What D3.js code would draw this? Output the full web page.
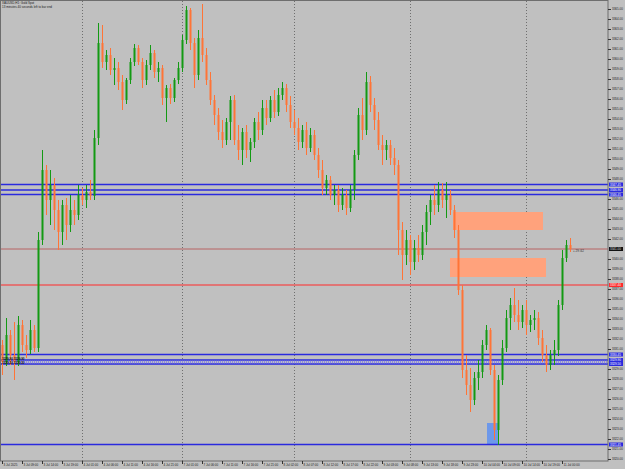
<!DOCTYPE html>
<html>
<head>
<meta charset="utf-8">
<script src="https://cdn.jsdelivr.net/npm/d3@7"></script>
<style>
  body { margin: 0; background: #c0c0c0; }
  svg { display: block; font-family: "Liberation Sans", Arial, sans-serif; }
</style>
</head>
<body>
<div id="chart"></div>
<script>
const opens = [
  3331.4, 3329.7, 3332.4, 3330.4, 3329.7, 3333.4, 3331.4, 3330.9, 3332.9, 3331.1,
  3341.9, 3348.9, 3345.9, 3347.4, 3344.9, 3342.7, 3345.4, 3343.4, 3344.9, 3344.4,
  3346.4, 3345.9, 3346.7, 3346.3, 3352.1, 3361.6, 3359.7, 3360.4, 3358.9, 3359.1,
  3357.7, 3355.9, 3357.9, 3359.7, 3361.1, 3359.7, 3357.9, 3359.4, 3360.6, 3358.7,
  3359.1, 3356.1, 3357.1, 3356.1, 3357.9, 3359.1, 3361.9, 3364.9, 3361.6, 3358.4,
  3362.1, 3360.4, 3357.9, 3355.9, 3354.4, 3352.7, 3351.9, 3353.7, 3355.9, 3351.9,
  3350.9, 3352.7, 3350.9, 3351.7, 3353.7, 3352.9, 3355.1, 3354.1, 3355.9, 3354.7,
  3356.4, 3357.1, 3355.4, 3353.7, 3353.1, 3351.7, 3352.9, 3351.1, 3352.4, 3350.4,
  3348.9, 3347.1, 3347.9, 3346.4, 3346.9, 3345.4, 3346.4, 3345.1, 3346.9, 3350.4,
  3354.4, 3352.9, 3357.7, 3355.4, 3353.9, 3351.4, 3350.9, 3351.4, 3350.1, 3349.4,
  3342.9, 3340.4, 3341.9, 3339.7, 3341.1, 3340.4, 3342.7, 3344.7, 3345.9, 3345.4,
  3346.9, 3345.9, 3346.4, 3344.9, 3342.9, 3336.9, 3328.9, 3327.4, 3325.9, 3328.1,
  3328.7, 3331.4, 3332.9, 3328.9, 3322.9, 3327.9, 3331.1, 3334.1, 3335.4, 3334.4,
  3333.7, 3334.9, 3333.4, 3333.9, 3334.1, 3332.1, 3330.4, 3329.4, 3330.4, 3330.9,
  3335.4, 3340.1, 3341.4
];
const highs = [
  3331.9, 3334.1, 3332.9, 3333.7, 3334.3, 3333.9, 3332.4, 3333.9, 3333.4, 3342.7,
  3350.9, 3349.4, 3348.9, 3348.1, 3345.9, 3345.9, 3346.1, 3346.4, 3345.9, 3347.4,
  3347.1, 3347.4, 3347.9, 3352.9, 3363.6, 3363.4, 3360.9, 3361.1, 3360.1, 3359.7,
  3358.4, 3358.1, 3360.1, 3361.5, 3361.4, 3360.1, 3359.9, 3361.4, 3360.9, 3359.7,
  3359.4, 3357.4, 3357.5, 3358.1, 3359.7, 3362.4, 3365.3, 3365.1, 3362.1, 3362.9,
  3365.5, 3361.1, 3358.7, 3356.4, 3355.1, 3353.9, 3354.1, 3356.3, 3356.4, 3353.4,
  3353.1, 3353.4, 3352.1, 3354.1, 3354.7, 3355.9, 3355.9, 3356.3, 3356.9, 3357.1,
  3357.7, 3357.5, 3356.3, 3354.9, 3354.1, 3353.4, 3353.7, 3353.1, 3352.9, 3351.1,
  3349.9, 3348.4, 3348.3, 3347.4, 3347.4, 3347.1, 3346.9, 3347.4, 3350.9, 3355.1,
  3356.1, 3358.7, 3358.3, 3356.1, 3354.7, 3352.4, 3351.9, 3351.9, 3351.1, 3349.9,
  3343.7, 3342.9, 3342.4, 3341.9, 3342.4, 3343.4, 3345.4, 3346.4, 3347.4, 3347.7,
  3347.6, 3347.7, 3346.9, 3345.4, 3343.4, 3337.4, 3330.4, 3329.1, 3328.7, 3329.9,
  3331.9, 3333.4, 3333.1, 3329.4, 3328.4, 3331.9, 3334.9, 3336.1, 3337.1, 3335.9,
  3335.4, 3335.9, 3334.4, 3334.9, 3334.7, 3332.9, 3331.4, 3330.9, 3331.9, 3335.9,
  3340.9, 3341.9, 3342.1
];
const lows = [
  3328.4, 3329.3, 3329.4, 3327.9, 3329.3, 3330.7, 3330.1, 3330.5, 3330.7, 3330.7,
  3341.4, 3344.4, 3343.4, 3342.9, 3340.9, 3341.4, 3341.9, 3342.7, 3343.4, 3343.9,
  3345.4, 3345.1, 3345.9, 3345.9, 3351.4, 3359.1, 3358.9, 3358.4, 3357.4, 3356.9,
  3354.9, 3355.5, 3357.5, 3359.3, 3359.4, 3357.1, 3357.4, 3358.9, 3358.1, 3357.7,
  3355.4, 3353.7, 3355.5, 3355.7, 3357.5, 3358.7, 3361.5, 3360.9, 3357.1, 3357.9,
  3359.7, 3357.4, 3355.4, 3353.4, 3351.9, 3351.1, 3351.4, 3351.9, 3351.4, 3349.9,
  3349.4, 3350.1, 3349.7, 3351.1, 3351.9, 3352.4, 3353.4, 3353.7, 3354.1, 3354.3,
  3355.9, 3354.7, 3353.1, 3352.4, 3350.9, 3351.1, 3350.4, 3350.7, 3349.9, 3348.1,
  3346.4, 3346.4, 3345.9, 3345.4, 3344.7, 3344.9, 3344.4, 3344.7, 3345.9, 3349.9,
  3351.9, 3352.4, 3354.7, 3352.9, 3350.9, 3349.4, 3349.9, 3349.4, 3348.4, 3340.4,
  3337.9, 3339.4, 3338.4, 3338.9, 3339.7, 3339.9, 3341.4, 3343.4, 3344.4, 3344.7,
  3345.1, 3344.1, 3344.4, 3342.1, 3336.4, 3328.1, 3326.4, 3324.7, 3325.4, 3326.9,
  3328.1, 3330.9, 3328.4, 3321.9, 3321.4, 3327.4, 3330.7, 3332.9, 3333.7, 3332.9,
  3333.1, 3332.4, 3332.7, 3332.9, 3331.4, 3329.7, 3328.7, 3328.9, 3329.4, 3330.3,
  3334.9, 3339.7, 3340.7
];
const closes = [
  3329.7, 3332.4, 3330.4, 3329.7, 3333.4, 3331.4, 3330.9, 3332.9, 3331.1, 3341.9,
  3348.9, 3345.9, 3347.4, 3344.9, 3342.7, 3345.4, 3343.4, 3344.9, 3344.4, 3346.4,
  3345.9, 3346.7, 3346.3, 3352.1, 3361.6, 3359.7, 3360.4, 3358.9, 3359.1, 3357.7,
  3355.9, 3357.9, 3359.7, 3361.1, 3359.7, 3357.9, 3359.4, 3360.6, 3358.7, 3359.1,
  3356.1, 3357.1, 3356.1, 3357.9, 3359.1, 3361.9, 3364.9, 3361.6, 3358.4, 3362.1,
  3360.4, 3357.9, 3355.9, 3354.4, 3352.7, 3351.9, 3353.7, 3355.9, 3351.9, 3350.9,
  3352.7, 3350.9, 3351.7, 3353.7, 3352.9, 3355.1, 3354.1, 3355.9, 3354.7, 3356.4,
  3357.1, 3355.4, 3353.7, 3353.1, 3351.7, 3352.9, 3351.1, 3352.4, 3350.4, 3348.9,
  3347.1, 3347.9, 3346.4, 3346.9, 3345.4, 3346.4, 3345.1, 3346.9, 3350.4, 3354.4,
  3352.9, 3357.7, 3355.4, 3353.9, 3351.4, 3350.9, 3351.4, 3350.1, 3349.4, 3342.9,
  3340.4, 3341.9, 3339.7, 3341.1, 3340.4, 3342.7, 3344.7, 3345.9, 3345.4, 3346.9,
  3345.9, 3346.4, 3344.9, 3342.9, 3336.9, 3328.9, 3327.4, 3325.9, 3328.1, 3328.7,
  3331.4, 3332.9, 3328.9, 3322.9, 3327.9, 3331.1, 3334.1, 3335.4, 3334.4, 3333.7,
  3334.9, 3333.4, 3333.9, 3334.1, 3332.1, 3330.4, 3329.4, 3330.4, 3330.9, 3335.4,
  3340.1, 3341.4, 3341.0
];

// separadores de dia (indice da barra)
const daySeparators = [20, 45, 73, 102, 131];

// eixo de tempo: uma etiqueta a cada 5 barras
const timeTickBars = [0, 5, 10, 15, 20, 25, 30, 35, 40, 45, 50, 55, 60, 65, 70,
  75, 80, 85, 90, 95, 100, 105, 110, 115, 120, 125, 130, 135, 140];
const timeTickLabels = [
  "3 Jul 2025", "3 Jul 09:00", "3 Jul 14:00", "3 Jul 19:00", "4 Jul 01:00",
  "4 Jul 06:00", "4 Jul 11:00", "4 Jul 16:00", "4 Jul 21:00", "7 Jul 01:00",
  "7 Jul 06:00", "7 Jul 11:00", "7 Jul 16:00", "7 Jul 21:00", "8 Jul 02:00",
  "8 Jul 07:00", "8 Jul 12:00", "8 Jul 17:00", "8 Jul 22:00", "9 Jul 03:00",
  "9 Jul 08:00", "9 Jul 13:00", "9 Jul 18:00", "9 Jul 23:00", "10 Jul 04:00",
  "10 Jul 09:00", "10 Jul 14:00", "10 Jul 19:00", "11 Jul 00:00"
];

// eixo de preços
const priceTicks = d3.range(3320, 3366, 1);

// linhas horizontais
const blueLevelsTop = [3347.45, 3346.90, 3346.45];
const blueLevelsBottom = [3330.45, 3329.90, 3329.50];
const blueLevelLow = 3321.45;
const redLevel = 3337.40;
const bidPrice = 3341.00;
const spreadText = "+ 29 /42";

// zonas (barra inicial, barra final, preço de cima, preço de baixo)
const salmonZoneStart = [112.75, 112];
const salmonZoneEnd = [135.25, 136];
const salmonZoneTop = [3344.7, 3340.1];
const salmonZoneBottom = [3342.9, 3338.2];
const blueZone = [121.25, 124.25, 3323.6, 3321.5];

const width = 625;
const height = 469;
const plotRight = 608;
const plotTop = 1;
const plotBottom = 461;

const x = d3.scaleLinear().domain([-0.5, 151.5]).range([0, plotRight]);
const y = d3.scaleLinear().domain([3319.8, 3365.8]).range([plotBottom, plotTop]);

const bull = "#139a13";
const bear = "#ff7436";
const blue = "#2a2ade";
const fmt = d3.format(".2f");

const svg = d3.select("#chart").append("svg")
    .attr("width", width)
    .attr("height", height);

svg.append("rect")
    .attr("width", width).attr("height", height)
    .attr("fill", "#c0c0c0");

// separadores de dia
svg.append("g").selectAll("line")
    .data(daySeparators)
    .join("line")
    .attr("x1", d => Math.round(x(d)) + 0.5)
    .attr("x2", d => Math.round(x(d)) + 0.5)
    .attr("y1", plotTop).attr("y2", plotBottom)
    .attr("stroke", "#5a5a5a")
    .attr("stroke-width", 0.8)
    .attr("stroke-dasharray", "1,2");

// zonas
svg.append("g").selectAll("rect")
    .data(salmonZoneStart)
    .join("rect")
    .attr("x", (d, i) => x(d))
    .attr("y", (d, i) => y(salmonZoneTop[i]))
    .attr("width", (d, i) => x(salmonZoneEnd[i]) - x(d))
    .attr("height", (d, i) => y(salmonZoneBottom[i]) - y(salmonZoneTop[i]))
    .attr("fill", "#ffa27c");

svg.append("rect")
    .attr("x", x(blueZone[0]))
    .attr("y", y(blueZone[2]))
    .attr("width", x(blueZone[1]) - x(blueZone[0]))
    .attr("height", y(blueZone[3]) - y(blueZone[2]))
    .attr("fill", "#6d98ea");

// linhas horizontais
const hline = (price, color, w, dash) => {
    svg.append("line")
        .attr("x1", 0).attr("x2", plotRight)
        .attr("y1", y(price)).attr("y2", y(price))
        .attr("stroke", color)
        .attr("stroke-width", w)
        .attr("stroke-dasharray", dash || null);
};

blueLevelsTop.forEach(p => hline(p, blue, 1.3));
blueLevelsBottom.forEach(p => hline(p, blue, 1.3));
hline((blueLevelsBottom[1] + blueLevelsBottom[2]) / 2, "#8a8ae6", 2.5, "1,1");
hline(blueLevelLow, blue, 1.3);
hline(redLevel, "#ff2a2a", 1.2);
hline(bidPrice, "#b85a5a", 0.9);

// velas
const bars = d3.range(opens.length).map(i => ({
    i, o: opens[i], h: highs[i], l: lows[i], c: closes[i]
}));

const candle = svg.append("g").selectAll("g")
    .data(bars)
    .join("g");

candle.append("line")
    .attr("x1", d => Math.round(x(d.i)) + 0.5)
    .attr("x2", d => Math.round(x(d.i)) + 0.5)
    .attr("y1", d => y(d.h))
    .attr("y2", d => y(d.l))
    .attr("stroke", d => d.c >= d.o ? bull : bear)
    .attr("stroke-width", 1);

candle.append("rect")
    .attr("x", d => Math.round(x(d.i)) - 0.5)
    .attr("width", 2)
    .attr("y", d => y(Math.max(d.o, d.c)))
    .attr("height", d => Math.max(0.8, Math.abs(y(d.o) - y(d.c))))
    .attr("fill", d => d.c >= d.o ? bull : bear);

// moldura
svg.append("rect")
    .attr("x", 0.5).attr("y", 0.5)
    .attr("width", plotRight - 0.5)
    .attr("height", plotBottom - 0.5)
    .attr("fill", "none")
    .attr("stroke", "#6e6e6e")
    .attr("stroke-width", 1);

// etiquetas coloridas ficam por cima dos ticks; esconder os ticks tapados
const taggedPrices = [...blueLevelsTop, ...blueLevelsBottom, blueLevelLow, redLevel, bidPrice];
const visibleTicks = priceTicks.filter(t =>
    taggedPrices.every(p => Math.abs(y(t) - y(p)) > 4));

// eixo da direita
const yAxis = svg.append("g")
    .attr("transform", `translate(${plotRight},0)`)
    .call(d3.axisRight(y).tickValues(visibleTicks).tickFormat(fmt).tickSize(3).tickPadding(1));
yAxis.select(".domain").remove();
yAxis.selectAll("line").attr("stroke", "#333");
yAxis.selectAll("text").attr("font-size", 3).attr("fill", "#222");

// etiquetas de preço das linhas
const priceTag = (price, bg, fg) => {
    svg.append("rect")
        .attr("x", plotRight + 1).attr("y", y(price) - 2)
        .attr("width", 14).attr("height", 4)
        .attr("fill", bg);
    svg.append("text")
        .attr("x", plotRight + 2).attr("y", y(price))
        .attr("dy", "0.35em")
        .attr("font-size", 3)
        .attr("fill", fg)
        .text(fmt(price));
};
blueLevelsTop.forEach(p => priceTag(p, "#2a2ade", "#fff"));
blueLevelsBottom.forEach(p => priceTag(p, "#2a2ade", "#fff"));
priceTag(blueLevelLow, "#2a2ade", "#fff");
priceTag(redLevel, "#ff2a2a", "#fff");
priceTag(bidPrice, "#111", "#ddd");

// etiquetas à esquerda das linhas de baixo
svg.append("g").selectAll("text")
    .data(blueLevelsBottom.slice(1))
    .join("text")
    .attr("x", 2)
    .attr("y", d => y(d) - 0.5)
    .attr("font-size", 3)
    .attr("font-weight", "bold")
    .attr("fill", "#111")
    .text(d => fmt(d) + " " + fmt(d));

svg.append("text")
    .attr("x", x(opens.length - 1) + 3)
    .attr("y", y(bidPrice) + 2.5)
    .attr("font-size", 3)
    .attr("fill", "#333")
    .text(spreadText);

// eixo de tempo
const tAxis = svg.append("g").selectAll("g")
    .data(timeTickBars)
    .join("g")
    .attr("transform", d => `translate(${Math.round(x(d)) + 0.5},${plotBottom})`);
tAxis.append("line")
    .attr("y1", 0).attr("y2", 3)
    .attr("stroke", "#333");
tAxis.append("text")
    .attr("x", 1).attr("y", 5)
    .attr("font-size", 3)
    .attr("fill", "#222")
    .text((d, i) => timeTickLabels[i]);

// texto do topo
svg.append("text")
    .attr("x", 2).attr("y", 4)
    .attr("font-size", 3)
    .attr("fill", "#222")
    .text("XAUUSD,H1: Gold Spot");
svg.append("text")
    .attr("x", 2).attr("y", 8)
    .attr("font-size", 3)
    .attr("fill", "#222")
    .text("13 minutes 40 seconds left to bar end");
</script>
</body>
</html>
